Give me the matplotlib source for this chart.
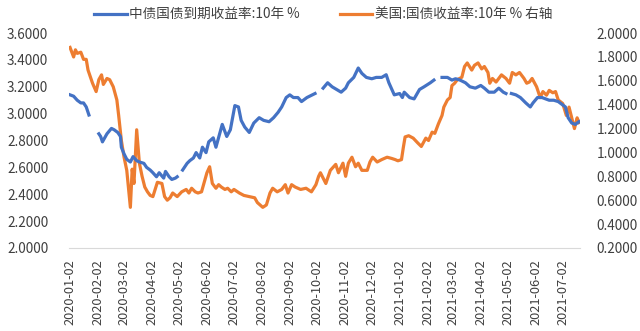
import numpy as np
import pandas as pd
import matplotlib
matplotlib.use("Agg")
import matplotlib.pyplot as plt
import matplotlib.dates as mdates

plt.rcParams['font.family'] = ['Noto Sans CJK SC', 'DejaVu Sans']

nan = np.nan

# 中债国债到期收益率:10年 (left axis), NaN = market closed
cn_dates = [
    "2020-01-02", "2020-01-06", "2020-01-10", "2020-01-14", "2020-01-17", "2020-01-20", "2020-01-23",
    "2020-01-28",
    "2020-02-03", "2020-02-05", "2020-02-07", "2020-02-12", "2020-02-17", "2020-02-20", "2020-02-24",
    "2020-02-27", "2020-02-28", "2020-03-02", "2020-03-05", "2020-03-09", "2020-03-12", "2020-03-16",
    "2020-03-19", "2020-03-24", "2020-03-27", "2020-03-31", "2020-04-03", "2020-04-07", "2020-04-10",
    "2020-04-15", "2020-04-17", "2020-04-21", "2020-04-24", "2020-04-28", "2020-04-30",
    "2020-05-03",
    "2020-05-06", "2020-05-11", "2020-05-14", "2020-05-18", "2020-05-21", "2020-05-25", "2020-05-28",
    "2020-06-01", "2020-06-04", "2020-06-09", "2020-06-12", "2020-06-19", "2020-06-24", "2020-06-28",
    "2020-07-03", "2020-07-07", "2020-07-10", "2020-07-14", "2020-07-19", "2020-07-24", "2020-07-30",
    "2020-08-04", "2020-08-10", "2020-08-15", "2020-08-20", "2020-08-24", "2020-08-29", "2020-09-02",
    "2020-09-06", "2020-09-11", "2020-09-15", "2020-09-21", "2020-09-27", "2020-09-30",
    "2020-10-04",
    "2020-10-09", "2020-10-14", "2020-10-19", "2020-10-24", "2020-10-29", "2020-11-03", "2020-11-06",
    "2020-11-12", "2020-11-17", "2020-11-21", "2020-11-26", "2020-12-02", "2020-12-07", "2020-12-13",
    "2020-12-18", "2020-12-21", "2020-12-27", "2021-01-02", "2021-01-05", "2021-01-07", "2021-01-13",
    "2021-01-18", "2021-01-24", "2021-01-29", "2021-02-05", "2021-02-09",
    "2021-02-14",
    "2021-02-18", "2021-02-24", "2021-03-01", "2021-03-05", "2021-03-10", "2021-03-16", "2021-03-21",
    "2021-03-27", "2021-04-02", "2021-04-06", "2021-04-11", "2021-04-17", "2021-04-22", "2021-04-27",
    "2021-04-30",
    "2021-05-03",
    "2021-05-06", "2021-05-11", "2021-05-16", "2021-05-22", "2021-05-27", "2021-05-30", "2021-06-04",
    "2021-06-09", "2021-06-17", "2021-06-22", "2021-06-27", "2021-07-05", "2021-07-08", "2021-07-12",
    "2021-07-16", "2021-07-20",
]
cn_yield = [
    3.14, 3.13, 3.10, 3.08, 3.08, 3.05, 2.99,
    nan,
    2.85, 2.83, 2.79, 2.85, 2.89, 2.88, 2.86,
    2.83, 2.75, 2.70, 2.66, 2.64, 2.68, 2.65,
    2.64, 2.63, 2.60, 2.58, 2.56, 2.53, 2.56,
    2.52, 2.57, 2.53, 2.51, 2.52, 2.53,
    nan,
    2.58, 2.63, 2.65, 2.67, 2.71, 2.67, 2.75,
    2.71, 2.79, 2.82, 2.75, 2.92, 2.83, 2.88,
    3.06, 3.05, 2.95, 2.90, 2.86, 2.93, 2.97,
    2.95, 2.94, 2.97, 3.01, 3.05, 3.12, 3.14,
    3.12, 3.12, 3.09, 3.12, 3.14, 3.15,
    nan,
    3.19, 3.23, 3.20, 3.18, 3.16, 3.19, 3.23,
    3.27, 3.34, 3.30, 3.27, 3.26, 3.27, 3.27,
    3.29, 3.23, 3.14, 3.15, 3.12, 3.16, 3.12,
    3.11, 3.18, 3.20, 3.23, 3.25,
    nan,
    3.27, 3.27, 3.25, 3.26, 3.25, 3.23, 3.20,
    3.19, 3.21, 3.19, 3.16, 3.16, 3.19, 3.16,
    3.15,
    nan,
    3.15, 3.14, 3.12, 3.08, 3.05, 3.08, 3.12,
    3.12, 3.10, 3.10, 3.09, 3.05, 2.97, 2.93,
    2.92, 2.94,
]

# 美国:国债收益率:10年 (right axis)
us_dates = [
    "2020-01-02", "2020-01-06", "2020-01-08", "2020-01-10", "2020-01-14", "2020-01-17", "2020-01-20",
    "2020-01-22", "2020-01-27", "2020-01-31", "2020-02-03", "2020-02-06", "2020-02-08", "2020-02-12",
    "2020-02-15", "2020-02-19", "2020-02-23", "2020-02-25", "2020-02-28", "2020-03-02", "2020-03-05",
    "2020-03-09", "2020-03-11", "2020-03-13", "2020-03-16", "2020-03-19", "2020-03-22", "2020-03-25",
    "2020-03-28", "2020-03-31", "2020-04-03", "2020-04-08", "2020-04-13", "2020-04-16", "2020-04-19",
    "2020-04-22", "2020-04-25", "2020-04-30", "2020-05-05", "2020-05-10", "2020-05-13", "2020-05-16",
    "2020-05-20", "2020-05-23", "2020-05-27", "2020-06-02", "2020-06-05", "2020-06-08", "2020-06-12",
    "2020-06-15", "2020-06-18", "2020-06-22", "2020-06-25", "2020-06-29", "2020-07-02", "2020-07-08",
    "2020-07-13", "2020-07-19", "2020-07-25", "2020-07-28", "2020-08-03", "2020-08-07", "2020-08-11",
    "2020-08-14", "2020-08-19", "2020-08-24", "2020-08-28", "2020-08-31", "2020-09-04", "2020-09-08",
    "2020-09-14", "2020-09-20", "2020-09-26", "2020-10-01", "2020-10-04", "2020-10-06", "2020-10-12",
    "2020-10-17", "2020-10-23", "2020-10-26", "2020-10-31", "2020-11-03", "2020-11-06", "2020-11-10",
    "2020-11-14", "2020-11-17", "2020-11-21", "2020-11-27", "2020-11-30", "2020-12-03", "2020-12-08",
    "2020-12-13", "2020-12-19", "2020-12-24", "2020-12-28", "2020-12-31", "2021-01-04", "2021-01-06",
    "2021-01-08", "2021-01-12", "2021-01-17", "2021-01-22", "2021-01-26", "2021-01-31", "2021-02-03",
    "2021-02-07", "2021-02-10", "2021-02-14", "2021-02-18", "2021-02-20", "2021-02-24", "2021-02-27",
    "2021-03-01", "2021-03-04", "2021-03-07", "2021-03-12", "2021-03-15", "2021-03-18", "2021-03-23",
    "2021-03-26", "2021-03-30", "2021-04-03", "2021-04-06", "2021-04-10", "2021-04-12", "2021-04-15",
    "2021-04-19", "2021-04-25", "2021-04-30", "2021-05-04", "2021-05-07", "2021-05-11", "2021-05-15",
    "2021-05-20", "2021-05-23", "2021-05-26", "2021-05-29", "2021-06-03", "2021-06-07", "2021-06-10",
    "2021-06-14", "2021-06-17", "2021-06-21", "2021-06-24", "2021-06-27", "2021-07-02", "2021-07-06",
    "2021-07-09", "2021-07-12", "2021-07-15", "2021-07-18", "2021-07-20",
]
us_yield = [
    1.88, 1.80, 1.86, 1.83, 1.84, 1.78, 1.78,
    1.69, 1.58, 1.51, 1.61, 1.65, 1.57, 1.62,
    1.61, 1.55, 1.44, 1.31, 1.10, 0.96, 0.85,
    0.54, 0.86, 0.74, 1.19, 0.91, 0.80, 0.71,
    0.67, 0.64, 0.63, 0.75, 0.74, 0.63, 0.60,
    0.62, 0.66, 0.63, 0.67, 0.69, 0.66, 0.70,
    0.67, 0.66, 0.67, 0.83, 0.88, 0.74, 0.70,
    0.73, 0.71, 0.69, 0.70, 0.67, 0.69, 0.66,
    0.64, 0.63, 0.62, 0.58, 0.54, 0.56, 0.66,
    0.70, 0.67, 0.69, 0.73, 0.66, 0.73, 0.71,
    0.69, 0.70, 0.67, 0.73, 0.80, 0.83, 0.74,
    0.85, 0.90, 0.83, 0.91, 0.80, 0.91, 0.96,
    0.88, 0.91, 0.85, 0.85, 0.92, 0.96, 0.92,
    0.94, 0.96, 0.95, 0.94, 0.93, 0.94, 1.04,
    1.13, 1.14, 1.12, 1.08, 1.05, 1.12, 1.10,
    1.17, 1.16, 1.24, 1.31, 1.38, 1.44, 1.46,
    1.56, 1.58, 1.61, 1.63, 1.72, 1.75, 1.69,
    1.73, 1.75, 1.70, 1.72, 1.67, 1.58, 1.62,
    1.59, 1.65, 1.62, 1.58, 1.67, 1.65, 1.67,
    1.62, 1.58, 1.59, 1.62, 1.55, 1.46, 1.51,
    1.48, 1.52, 1.50, 1.51, 1.44, 1.41, 1.31,
    1.38, 1.29, 1.20, 1.29, 1.25,
]

left_ticks = [2.0, 2.2, 2.4, 2.6, 2.8, 3.0, 3.2, 3.4, 3.6]
right_ticks = [0.2, 0.4, 0.6, 0.8, 1.0, 1.2, 1.4, 1.6, 1.8, 2.0]
cn_label = "中债国债到期收益率:10年 %"
us_label = "美国:国债收益率:10年 % 右轴"

blue = "#4472C4"
orange = "#ED7D31"
text_color = "#404040"

fig = plt.figure(figsize=(6.4, 3.31), dpi=100)
ax = fig.add_axes([0.108, 0.251, 0.798, 0.649])
ax2 = ax.twinx()

line_cn, = ax.plot(pd.to_datetime(cn_dates), cn_yield, color=blue, lw=2.3, label=cn_label)
line_us, = ax2.plot(pd.to_datetime(us_dates), us_yield, color=orange, lw=2.3, label=us_label)
ax.set_zorder(ax2.get_zorder() + 1)
ax.patch.set_visible(False)

ax.set_xlim(pd.Timestamp("2020-01-01"), pd.Timestamp("2021-07-21"))
ax.set_ylim(2.0, 3.6)
ax2.set_ylim(0.2, 2.0)
ax.set_yticks(left_ticks)
ax2.set_yticks(right_ticks)
ax.yaxis.set_major_formatter(matplotlib.ticker.FormatStrFormatter("%.4f"))
ax2.yaxis.set_major_formatter(matplotlib.ticker.FormatStrFormatter("%.4f"))

ax.xaxis.set_major_locator(mdates.MonthLocator(bymonthday=2))
ax.xaxis.set_major_formatter(mdates.DateFormatter("%Y-%m-%d"))
plt.setp(ax.get_xticklabels(), rotation=90)

for a in (ax, ax2):
    for side in ("top", "left", "right", "bottom"):
        a.spines[side].set_visible(False)
    a.tick_params(length=0, labelsize=9.8, colors=text_color)
ax.spines["bottom"].set_visible(True)
ax.spines["bottom"].set_color("#d9d9d9")
ax.tick_params(axis="y", pad=15)
ax.tick_params(axis="x", pad=8, labelsize=9.2)
ax2.tick_params(axis="y", pad=12)

fig.legend([line_cn, line_us], [cn_label, us_label], loc="upper center",
           bbox_to_anchor=(0.505, 1.015), ncol=2, frameon=False, fontsize=9.8,
           handlelength=2.4, handletextpad=0.2, columnspacing=2.9,
           labelcolor=text_color)

fig.savefig("out.png", dpi=100)
